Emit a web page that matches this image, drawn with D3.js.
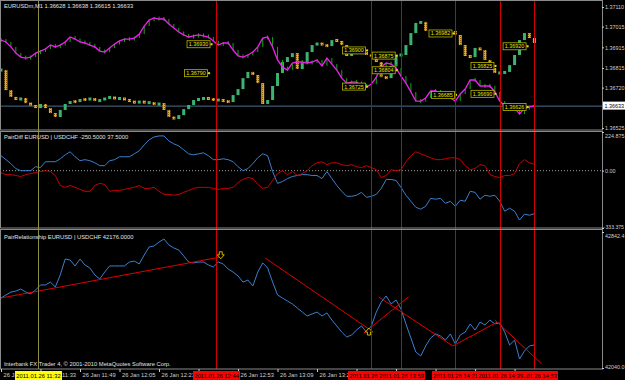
<!doctype html>
<html lang="en">
<head>
  <meta charset="utf-8">
  <style>
    body { margin: 0; background-color: black; }
    svg { display: block; background-color: black; }
    text { font-family: "Liberation Sans", Arial, sans-serif; font-size: 5.8px; }
    .frame { fill: none; stroke: #8a8a8a; stroke-width: 1px; }
    .axis text { fill: #cfcfcf; }
    .axis line { stroke: #cfcfcf; }
    .vline { shape-rendering: crispEdges; }
  </style>
</head>
<body>
<script src="https://d3js.org/d3.v7.min.js"></script>
<script>
var width = 625,
    height = 380;

// one sample every 2 minutes, starting 26 Jan 2011 11:17
var startTime = "11:17";
var stepMin = 2;

// EURUSD (magenta line)
var eurusd = [
  1.36950,1.36941,1.36917,1.36887,1.36868,1.36863,1.36868,1.36887,1.36897,1.36907,
  1.36926,1.36917,1.36926,1.36941,1.36965,1.36955,1.36941,1.36936,1.36926,1.36917,
  1.36897,1.36892,1.36912,1.36931,1.36946,1.36955,1.36955,1.36960,1.36979,1.37018,
  1.37047,1.37057,1.37052,1.37052,1.37028,1.37008,1.36989,1.36975,1.36965,1.36970,
  1.36975,1.36970,1.36965,1.36946,1.36926,1.36936,1.36936,1.36902,1.36873,1.36868,
  1.36878,1.36892,1.36917,1.36960,1.36965,1.36917,1.36854,1.36820,1.36805,1.36839,
  1.36844,1.36844,1.36839,1.36844,1.36854,1.36825,1.36863,1.36834,1.36805,1.36766,
  1.36742,1.36747,1.36747,1.36733,1.36723,1.36737,1.36771,1.36820,1.36839,1.36834,
  1.36815,1.36776,1.36742,1.36699,1.36655,1.36655,1.36670,1.36704,1.36704,1.36694,
  1.36689,1.36670,1.36655,1.36689,1.36713,1.36757,1.36757,1.36728,1.36728,1.36728,
  1.36699,1.36655,1.36631,1.36641,1.36621,1.36592,1.36621,1.36626,1.36633
];

// USDCHF overlay (candles), closes on the same price scale
var usdchf = [
  1.36805,1.36708,1.36675,1.36660,1.36670,1.36645,1.36636,1.36621,1.36641,1.36621,
  1.36597,1.36578,1.36612,1.36641,1.36655,1.36650,1.36665,1.36660,1.36670,1.36655,
  1.36660,1.36670,1.36675,1.36665,1.36670,1.36660,1.36655,1.36645,1.36655,1.36645,
  1.36650,1.36636,1.36645,1.36612,1.36578,1.36568,1.36587,1.36616,1.36636,1.36660,
  1.36665,1.36670,1.36665,1.36660,1.36660,1.36655,1.36650,1.36684,1.36713,1.36766,
  1.36796,1.36781,1.36742,1.36641,1.36660,1.36728,1.36791,1.36844,1.36868,1.36887,
  1.36810,1.36839,1.36892,1.36926,1.36936,1.36926,1.36921,1.36950,1.36946,1.36926,
  1.36873,1.36887,1.36892,1.36887,1.36883,1.36868,1.36844,1.36771,1.36766,1.36825,
  1.36878,1.36878,1.36926,1.36984,1.37033,1.37038,1.36994,1.36984,1.36984,1.36984,
  1.36989,1.36994,1.36975,1.36926,1.36873,1.36868,1.36912,1.36902,1.36854,1.36815,
  1.36791,1.36791,1.36796,1.36829,1.36878,1.36950,1.36984,1.36960,1.36936
];

// PairDiff
var diffBlue = [
  87,64,41,12,0,0,0,23,18,52,
  52,52,69,92,110,81,58,64,58,46,
  29,29,58,64,81,81,81,98,116,150,
  179,196,202,202,173,156,144,121,98,92,
  98,104,87,64,64,69,64,52,23,0,
  12,41,75,98,87,-5,-74,-63,-46,-34,
  -28,-23,-23,-28,-28,-46,-5,-46,-86,-120,
  -149,-149,-143,-126,-155,-149,-138,-103,-51,-51,
  -57,-97,-143,-178,-213,-224,-207,-161,-166,-161,
  -190,-178,-207,-172,-178,-120,-126,-166,-143,-149,
  -143,-178,-236,-218,-236,-287,-253,-259,-250.5
];
var diffRed = [
  -11,-23,-23,-28,-34,-23,-17,-11,-5,0,
  -5,-28,-86,-97,-86,-97,-109,-120,-120,-86,
  -74,-80,-120,-115,-115,-109,-103,-97,-86,-103,
  -103,-97,-120,-138,-138,-143,-138,-126,-115,-103,
  -97,-97,-97,-103,-109,-103,-103,-97,-69,-51,
  -40,-46,-80,-103,-97,-57,-17,0,-23,-5,
  -28,-17,0,29,46,52,35,46,46,35,
  29,35,23,18,29,18,6,-40,-28,6,
  0,6,52,87,110,98,87,75,64,64,
  69,75,75,64,29,6,12,35,29,-23,
  -34,-40,-28,-28,-17,41,64,46,37.5
];

// PairRelationship
var relation = [
  42453,42471,42488,42494,42506,42488,42477,42500,42530,42530,
  42547,42518,42589,42683,42677,42642,42683,42648,42630,42589,
  42565,42606,42642,42642,42642,42642,42665,42671,42654,42707,
  42754,42760,42783,42801,42766,42748,42736,42701,42665,42660,
  42665,42665,42648,42636,42665,42654,42624,42606,42583,42547,
  42559,42524,42606,42660,42630,42547,42471,42453,42435,42418,
  42394,42370,42347,42359,42370,42347,42365,42323,42288,42252,
  42223,42235,42264,42288,42252,42288,42370,42429,42465,42418,
  42441,42388,42300,42217,42134,42111,42170,42217,42241,42229,
  42205,42241,42182,42235,42252,42300,42264,42311,42294,42323,
  42300,42306,42252,42176,42205,42093,42140,42170,42176
];

var timeTicks = ["11:17","11:33","11:49","12:05","12:21","12:37","12:53","13:09",
                 "13:25","13:41","13:57","14:13","14:29","14:45"];
var priceTicks = [1.37110, 1.37015, 1.36915, 1.36815, 1.36720, 1.36525];
var diffTicks = [224.875, 0, -333.375];
var relTicks = [42842.4, 42040.0];
var lastPrice = 1.36633;

// vertical line objects, in drawing order
var vLines = [
  {time: "11:32", color: "#8c8c3c", box: "#ffff00"},
  {time: "12:44", color: "#d00000", box: "#ff0000"},
  {time: "13:47", color: "#d00000", box: "#ff0000"},
  {time: "13:59", color: "#d00000", box: "#ff0000"},
  {time: "14:21", color: "#d00000", box: "#ff0000"},
  {time: "14:53", color: "#d00000", box: "#ff0000"},
  {time: "14:39", color: "#d00000", box: "#ff0000"}
];

// price labels in the top window
var priceLabels = [
  {time: "12:37", price: 1.36930}, {time: "12:36", price: 1.36790},
  {time: "13:40", price: 1.36900}, {time: "13:52", price: 1.36875},
  {time: "13:52", price: 1.36804}, {time: "13:40", price: 1.36725},
  {time: "14:15", price: 1.36982}, {time: "14:16", price: 1.36685},
  {time: "14:32", price: 1.36825}, {time: "14:32", price: 1.36690},
  {time: "14:45", price: 1.36920}, {time: "14:45", price: 1.36626}
];

// trend lines and arrows in the PairRelationship window
var trendLines = [
  {t1: "11:17", v1: 42453, t2: "12:46", v2: 42695},
  {t1: "13:04", v1: 42689, t2: "13:46", v2: 42270},
  {t1: "13:44", v1: 42247, t2: "14:02", v2: 42459},
  {t1: "13:50", v1: 42459, t2: "14:20", v2: 42170},
  {t1: "14:20", v1: 42170, t2: "14:38", v2: 42311},
  {t1: "14:37", v1: 42323, t2: "14:56", v2: 42064}
];
var arrows = [
  {time: "12:46", value: 42702, dir: "down"},
  {time: "13:46", value: 42258, dir: "up"}
];

function hm(s) {
  var p = s.split(":");
  return new Date(2011, 0, 26, +p[0], +p[1]);
}

var times = eurusd.map(function(d, i) { return d3.timeMinute.offset(hm(startTime), i * stepMin); });

var x = d3.scaleTime().domain([hm("11:17"), hm("15:20")]).range([1, 601]);
var yTop = d3.scaleLinear().domain([1.36515, 1.37144]).range([130, 0]);
var yMid = d3.scaleLinear().domain([-333.375, 224.875]).range([228, 132]);
var yBot = d3.scaleLinear().domain([42040, 42842.4]).range([368, 232]);

var panels = [
  {id: "cTop", y0: 1, y1: 130},
  {id: "cMid", y0: 132, y1: 228},
  {id: "cBot", y0: 230, y1: 369}
];
var plotRight = 602;

var svg = d3.select("body").append("svg")
  .attr("width", width)
  .attr("height", height);

var defs = svg.append("defs");
var pat = defs.append("pattern").attr("id", "dn")
  .attr("width", 2).attr("height", 2).attr("patternUnits", "userSpaceOnUse");
pat.append("rect").attr("width", 2).attr("height", 2).attr("fill", "#ffa500");
pat.append("rect").attr("width", 1).attr("height", 1).attr("fill", "#8a5a00");

panels.forEach(function(p) {
  defs.append("clipPath").attr("id", p.id).append("rect")
    .attr("x", 1).attr("y", p.y0).attr("width", plotRight - 1).attr("height", p.y1 - p.y0);
});

var gTop = svg.append("g").attr("clip-path", "url(#cTop)");
var gMid = svg.append("g").attr("clip-path", "url(#cMid)");
var gBot = svg.append("g").attr("clip-path", "url(#cBot)");

//current price line
gTop.append("line")
  .attr("x1", 0).attr("x2", plotRight)
  .attr("y1", yTop(lastPrice) + 0.5).attr("y2", yTop(lastPrice) + 0.5)
  .attr("stroke", "#4f6f8f");

//overlay candles
var candles = usdchf.map(function(c, i) {
  return {t: times[i], o: i ? usdchf[i - 1] : c, c: c};
});
gTop.selectAll(".cndl")
  .data(candles)
  .enter().append("rect")
  .attr("class", "cndl")
  .attr("x", function(d) { return x(d.t) - 1.5; })
  .attr("width", 3)
  .attr("y", function(d) {
    var a = yTop(d.o), b = yTop(d.c), h = Math.max(3, Math.abs(a - b));
    return (a + b) / 2 - h / 2;
  })
  .attr("height", function(d) { return Math.max(3, Math.abs(yTop(d.o) - yTop(d.c))); })
  .attr("fill", function(d) { return d.c >= d.o ? "#3cb371" : "url(#dn)"; });

//green bars under the main line
gTop.selectAll(".bar")
  .data(eurusd)
  .enter().append("rect")
  .attr("class", "bar")
  .attr("x", function(d, i) { return x(times[i]) - 0.5; })
  .attr("width", 1)
  .attr("y", function(d, i) {
    var a = yTop(i ? eurusd[i - 1] : d), b = yTop(d);
    var h = Math.max(4, Math.abs(a - b));
    return (a + b) / 2 - h / 2;
  })
  .attr("height", function(d, i) {
    return Math.max(4, Math.abs(yTop(i ? eurusd[i - 1] : d) - yTop(d)));
  })
  .attr("fill", "#11a611");

gTop.append("path")
  .datum(eurusd)
  .attr("fill", "none")
  .attr("stroke", "#f020f0")
  .attr("stroke-width", 1.3)
  .attr("d", d3.line()
    .x(function(d, i) { return x(times[i]); })
    .y(function(d) { return yTop(d); }));

//price labels
var pl = gTop.selectAll(".plabel")
  .data(priceLabels)
  .enter().append("g")
  .attr("class", "plabel")
  .attr("transform", function(d) { return "translate(" + x(hm(d.time)) + "," + yTop(d.price) + ")"; });
pl.append("rect")
  .attr("x", -11.5).attr("y", -3.5).attr("width", 23).attr("height", 7)
  .attr("fill", "#000").attr("stroke", "#b8b800").attr("stroke-width", 0.8);
pl.append("rect")
  .attr("x", 12).attr("y", -1).attr("width", 2).attr("height", 2)
  .attr("fill", "#e6e600");
pl.append("text")
  .attr("text-anchor", "middle").attr("y", 2)
  .style("font-size", "5.4px")
  .attr("fill", "#e6e600")
  .text(function(d) { return d.price.toFixed(5); });

//PairDiff
gMid.append("line")
  .attr("x1", 0).attr("x2", plotRight)
  .attr("y1", yMid(0)).attr("y2", yMid(0))
  .attr("stroke", "#9a9a9a")
  .attr("stroke-dasharray", "1,2");

[[diffBlue, "#3a80d0"], [diffRed, "#c80000"]].forEach(function(s) {
  gMid.append("path")
    .datum(s[0])
    .attr("fill", "none")
    .attr("stroke", s[1])
    .attr("stroke-width", 1)
    .attr("d", d3.line()
      .x(function(d, i) { return x(times[i]); })
      .y(function(d) { return yMid(d); }));
});

//PairRelationship
gBot.append("path")
  .datum(relation)
  .attr("fill", "none")
  .attr("stroke", "#3a80d0")
  .attr("stroke-width", 1)
  .attr("d", d3.line()
    .x(function(d, i) { return x(times[i]); })
    .y(function(d) { return yBot(d); }));

gBot.selectAll(".trend")
  .data(trendLines)
  .enter().append("line")
  .attr("class", "trend")
  .attr("x1", function(d) { return x(hm(d.t1)); })
  .attr("y1", function(d) { return yBot(d.v1); })
  .attr("x2", function(d) { return x(hm(d.t2)); })
  .attr("y2", function(d) { return yBot(d.v2); })
  .attr("stroke", "#e00000")
  .attr("stroke-width", 1);

gBot.selectAll(".arrow")
  .data(arrows)
  .enter().append("path")
  .attr("class", "arrow")
  .attr("transform", function(d) {
    return "translate(" + x(hm(d.time)) + "," + yBot(d.value) + ")" + (d.dir === "up" ? "rotate(180)" : "");
  })
  .attr("d", "M-1.5,-4h3v3h2l-3.5,4l-3.5,-4h2z")
  .attr("fill", "#000")
  .attr("stroke", "#ffd700")
  .attr("stroke-width", 0.8);

//vertical lines
svg.selectAll(".vline")
  .data(vLines)
  .enter().append("line")
  .attr("class", "vline")
  .attr("x1", function(d) { return Math.round(x(hm(d.time))) + 0.5; })
  .attr("x2", function(d) { return Math.round(x(hm(d.time))) + 0.5; })
  .attr("y1", 1).attr("y2", 369)
  .attr("stroke", function(d) { return d.color; });

//frames
panels.forEach(function(p) {
  svg.append("rect").attr("class", "frame")
    .attr("x", 0.5).attr("y", p.y0 - 0.5)
    .attr("width", plotRight).attr("height", p.y1 - p.y0 + 0.5);
});

//window titles
svg.append("text").attr("x", 4).attr("y", 8).attr("fill", "#e0e0e0")
  .text("EURUSDm,M1  1.36628 1.36638 1.36615 1.36633");
svg.append("text").attr("x", 4).attr("y", 139).attr("fill", "#e0e0e0")
  .text("PairDiff EURUSD | USDCHF    -250.5000 37.5000");
svg.append("text").attr("x", 4).attr("y", 239).attr("fill", "#e0e0e0")
  .text("PairRelationship EURUSD | USDCHF    42176.0000");
svg.append("text").attr("x", 4).attr("y", 366).attr("fill", "#e0e0e0")
  .text("Interbank FX Trader 4, \u00a9 2001-2010 MetaQuotes Software Corp.");

//right scales
function rightAxis(scale, ticks, fmt) {
  var g = svg.append("g").attr("class", "axis")
    .attr("transform", "translate(" + plotRight + ",0)")
    .call(d3.axisRight(scale).tickValues(ticks).tickSize(2).tickPadding(1).tickFormat(fmt));
  g.select(".domain").remove();
  g.selectAll(".tick text").style("font-size", "5.4px");
  return g;
}
rightAxis(yTop, priceTicks, d3.format(".5f"));
var ga = rightAxis(yMid, diffTicks, function(d) { return d === 0 ? "0.00" : d3.format(".3f")(d); });
ga.selectAll(".tick text")
  .attr("dy", function(d) { return d === 224.875 ? "1.0em" : d < 0 ? "0em" : "0.32em"; })
  .attr("x", function(d) { return d < 0 ? 0.5 : 3; })
  .style("font-size", function(d) { return d < 0 ? "5.1px" : "5.4px"; });
var gb = rightAxis(yBot, relTicks, d3.format(".1f"));
gb.selectAll(".tick text").attr("dy", function(d) { return d > 42500 ? "1.0em" : "0em"; });

svg.append("rect")
  .attr("x", 603).attr("y", yTop(lastPrice) - 4)
  .attr("width", 22).attr("height", 8)
  .attr("fill", "#fff");
svg.append("text")
  .attr("x", 604.5).attr("y", yTop(lastPrice) + 2)
  .style("font-size", "5.4px")
  .attr("fill", "#000")
  .text(d3.format(".5f")(lastPrice));

//time scale
var boxHalf = 23.5;
var gx = svg.append("g").attr("class", "axis")
  .attr("transform", "translate(0,369)")
  .call(d3.axisBottom(x).tickValues(timeTicks.map(hm)).tickSize(3).tickPadding(1)
    .tickFormat(d3.timeFormat("%d %b %H:%M")));
gx.select(".domain").remove();
gx.selectAll(".tick text")
  .style("font-size", "5.8px")
  .attr("text-anchor", "start")
  .attr("x", 2);

// labels lying fully under a line's date box are not visible in the chart
function underBox(px) {
  return vLines.some(function(v) {
    var c = Math.round(x(hm(v.time)));
    return px >= c - boxHalf && px <= c + boxHalf;
  });
}
gx.selectAll(".tick text").each(function(d) {
  var x0 = x(d) + 2, x1 = x0 + this.getComputedTextLength();
  if (underBox(x0) && underBox(x1)) d3.select(this).remove();
});

var vb = svg.selectAll(".vbox")
  .data(vLines)
  .enter().append("g")
  .attr("class", "vbox")
  .attr("transform", function(d) { return "translate(" + Math.round(x(hm(d.time))) + ",371)"; });
vb.append("rect")
  .attr("x", -23).attr("y", 0).attr("width", 47).attr("height", 9)
  .attr("fill", function(d) { return d.box; });
vb.append("text")
  .attr("x", 0.5).attr("y", 6.8)
  .attr("text-anchor", "middle")
  .attr("fill", "#000")
  .text(function(d) { return "2011.01.26 " + d.time; });
</script>
</body>
</html>
